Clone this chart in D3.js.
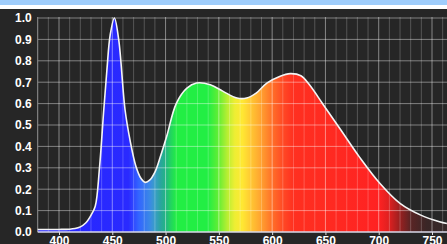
<!DOCTYPE html>
<html>
<head>
<meta charset="utf-8">
<script src="https://cdn.jsdelivr.net/npm/d3@7"></script>
<style>
  html, body { margin: 0; padding: 0; background: #262626; overflow: hidden; }
  svg { display: block; }
</style>
</head>
<body>
<svg width="447" height="244"></svg>
<script>
(function() {
    const svg = d3.select('svg');
    const width  = +svg.attr('width');
    const height = +svg.attr('height');

    // spectrum (wavelength nm -> relative intensity)
    const wavelengths = [380, 390, 400, 410, 415, 420, 425, 430, 434, 438, 442, 445, 448, 452, 456, 462, 467, 472, 477, 481, 485, 490, 495, 501, 510, 520, 529, 542, 554, 567, 576, 585, 595, 607, 617, 627, 635, 648, 664, 682, 701, 720, 739, 757, 764];
    const intensity   = [0.012, 0.012, 0.012, 0.013, 0.016, 0.024, 0.042, 0.078, 0.12, 0.30, 0.57, 0.76, 0.92, 1.0, 0.90, 0.57, 0.42, 0.31, 0.25, 0.232, 0.242, 0.28, 0.35, 0.446, 0.60, 0.672, 0.696, 0.688, 0.657, 0.626, 0.626, 0.649, 0.696, 0.727, 0.74, 0.73, 0.688, 0.595, 0.48, 0.35, 0.228, 0.134, 0.08, 0.048, 0.04];

    const xTicks = [400, 450, 500, 550, 600, 650, 700, 750];
    const yTicks = [0.0, 0.1, 0.2, 0.3, 0.4, 0.5, 0.6, 0.7, 0.8, 0.9, 1.0];
    const minorX = d3.range(380, 770, 10);

    // colour of the fill along the spectrum
    const stopNm     = [380, 465, 475, 485, 490, 495, 500, 505, 510, 540, 550, 558, 565, 572, 580, 590, 600, 610, 620, 700, 710, 720, 730, 745, 764];
    const stopColors = ['#2626ff', '#2a2aff', '#3366ff', '#3a88e6', '#3a9ec8', '#2aa4a0', '#22b482', '#22d460', '#22ee44', '#22ee44', '#66ee33', '#b8ee33', '#eeee33', '#ffe833', '#ffc833', '#ffa030', '#ff7028', '#ff4a25', '#ff3020', '#ff2222', '#dd2020', '#992020', '#5a2424', '#3a2626', '#352828'];

    const data = wavelengths.map((w, i) => ({ w: w, v: intensity[i] }));

    const x = d3.scaleLinear().domain([400, 750]).range([59, 432]);
    const y = d3.scaleLinear().domain([0, 1]).range([232, 18]);

    const left = x(380), right = width, top = 17, bottom = y(0);

    // header strips
    svg.append('rect').attr('x', 0).attr('y', 0).attr('width', width).attr('height', 5).attr('fill', '#9fcdfb');
    svg.append('rect').attr('x', 0).attr('y', 5).attr('width', width).attr('height', 4).attr('fill', '#ffffff');

    const defs = svg.append('defs');
    const grad = defs.append('linearGradient')
        .attr('id', 'spec')
        .attr('gradientUnits', 'userSpaceOnUse')
        .attr('x1', x(380)).attr('x2', x(764))
        .attr('y1', 0).attr('y2', 0);
    grad.selectAll('stop')
        .data(stopNm)
        .enter()
        .append('stop')
        .attr('offset', d => (d - 380) / (764 - 380))
        .attr('stop-color', (d, i) => stopColors[i]);

    const curve = d3.curveCatmullRom.alpha(0.5);

    const area = d3.area()
        .x(d => x(d.w))
        .y0(bottom)
        .y1(d => y(d.v))
        .curve(curve);

    const line = d3.line()
        .x(d => x(d.w))
        .y(d => y(d.v))
        .curve(curve);

    svg.append('path')
        .datum(data)
        .attr('d', area)
        .attr('fill', 'url(#spec)');

    // grid on top of the fill
    const grid = svg.append('g').attr('class', 'grid');
    grid.selectAll('line.vx')
        .data(minorX)
        .enter()
        .append('line')
        .attr('x1', d => x(d)).attr('x2', d => x(d))
        .attr('y1', top).attr('y2', bottom)
        .attr('stroke', d => d % 50 === 0 ? 'rgba(255,255,255,0.45)' : 'rgba(255,255,255,0.22)')
        .attr('stroke-width', 1);
    grid.selectAll('line.hy')
        .data(yTicks.slice(1))
        .enter()
        .append('line')
        .attr('x1', left).attr('x2', right)
        .attr('y1', d => y(d)).attr('y2', d => y(d))
        .attr('stroke', 'rgba(255,255,255,0.42)')
        .attr('stroke-width', 1);

    svg.append('line')
        .attr('x1', left).attr('x2', left)
        .attr('y1', top).attr('y2', bottom)
        .attr('stroke', '#888');

    svg.append('path')
        .datum(data)
        .attr('d', line)
        .attr('fill', 'none')
        .attr('stroke', '#f4f4f4')
        .attr('stroke-width', 1.6);

    // baseline and axes
    const xAxis = d3.axisBottom(x).tickValues(xTicks).tickSize(3).tickPadding(1).tickFormat(d3.format('d'));
    const gx = svg.append('g').attr('transform', `translate(0, ${bottom})`).call(xAxis);
    gx.select('.domain').attr('d', `M${left},0H${right}`).attr('stroke', '#d8d8e8').attr('stroke-width', 1.5);
    gx.selectAll('.tick line').attr('stroke', '#ddd');
    gx.selectAll('.tick text')
        .attr('fill', '#fff')
        .attr('font-family', 'Liberation Sans, Arial, sans-serif')
        .attr('font-weight', 'bold')
        .attr('font-size', 12);

    const yAxis = d3.axisLeft(y).tickValues(yTicks).tickSize(0).tickPadding(6).tickFormat(d3.format('.1f'));
    const gy = svg.append('g').attr('transform', `translate(${left}, 0)`).call(yAxis);
    gy.select('.domain').remove();
    gy.selectAll('.tick text')
        .attr('fill', '#fff')
        .attr('font-family', 'Liberation Sans, Arial, sans-serif')
        .attr('font-weight', 'bold')
        .attr('font-size', 12);
})();
</script>
</body>
</html>
